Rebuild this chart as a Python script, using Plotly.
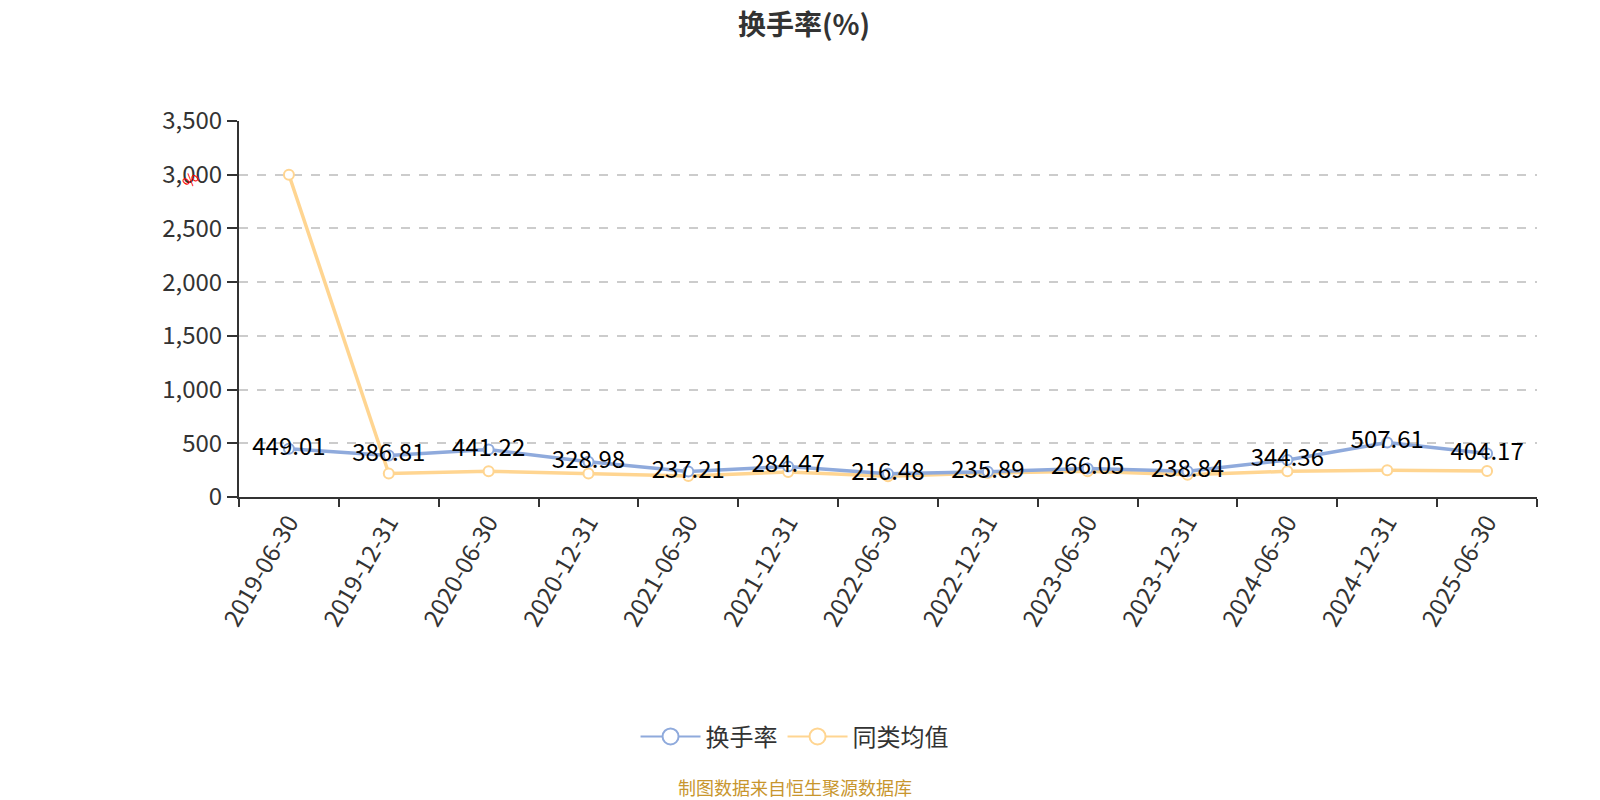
import plotly.graph_objects as go

# data
dates = ['2019-06-30', '2019-12-31', '2020-06-30', '2020-12-31', '2021-06-30',
         '2021-12-31', '2022-06-30', '2022-12-31', '2023-06-30', '2023-12-31',
         '2024-06-30', '2024-12-31', '2025-06-30']
turnover = [449.01, 386.81, 441.22, 328.98, 237.21, 284.47, 216.48,
            235.89, 266.05, 238.84, 344.36, 507.61, 404.17]
peer_avg = [3000, 218, 239, 218, 196, 233, 193, 223, 239, 208, 239, 249, 242]

font_cjk = 'Noto Sans CJK SC, Microsoft YaHei, sans-serif'
blue = '#8FAADC'
orange = '#FFD591'

fig = go.Figure()

fig.add_trace(go.Scatter(
    x=dates, y=peer_avg, name='同类均值', mode='lines+markers', showlegend=False,
    line=dict(color=orange, width=3.5),
    marker=dict(size=10, color='white', line=dict(color=orange, width=2)),
))

fig.add_trace(go.Scatter(
    x=dates, y=turnover, name='换手率', mode='lines+markers+text', showlegend=False,
    line=dict(color=blue, width=3.5),
    marker=dict(size=10, color='white', line=dict(color=blue, width=2)),
    text=[f'{v:.2f}' for v in turnover], textposition='middle center',
    textfont=dict(size=24, color='#000000', family=font_cjk),
))

# legend entries with the larger hollow circle symbol of the original
for name, color in [('换手率', blue), ('同类均值', orange)]:
    fig.add_trace(go.Scatter(
        x=[None], y=[None], name=name, mode='lines+markers',
        line=dict(color=color, width=2),
        marker=dict(size=16, color='white', line=dict(color=color, width=2)),
    ))

# the page body adds an 8px offset, so the figure is 8px smaller on each side
fig.update_layout(
    width=1592, height=792,
    paper_bgcolor='white', plot_bgcolor='white',
    margin=dict(l=231, r=63, t=113, b=303),
    font=dict(family=font_cjk, color='#333333'),
    title=dict(text='<b>换手率(%)</b>', x=0.5, xanchor='center', y=0.978, yanchor='middle',
               font=dict(size=28, color='#333333')),
    showlegend=True,
    legend=dict(orientation='h', x=0.428, xanchor='center',
                y=-0.638, yanchor='middle',
                font=dict(size=24, color='#333333'),
                itemwidth=60),
    xaxis=dict(
        type='category', range=[-0.5, 12.5], tickson='boundaries',
        showline=True, linecolor='#333333', linewidth=2,
        ticks='outside', ticklen=8, tickcolor='#333333', tickwidth=2,
        tickangle=-60, tickfont=dict(size=24, color='#333333'),
        showgrid=False, zeroline=False, automargin=False,
    ),
    yaxis=dict(
        range=[0, 3500], dtick=500, tickformat=',',
        showline=True, linecolor='#333333', linewidth=2,
        ticks='outside', ticklen=10, tickcolor='#333333', tickwidth=2,
        tickfont=dict(size=24, color='#333333'),
        showgrid=True, gridcolor='#CCCCCC', griddash='dash', gridwidth=1.5,
        zeroline=False, automargin=False,
    ),
    annotations=[
        dict(text='%', xref='paper', yref='paper', x=-0.051, y=0.89,
             showarrow=False, textangle=-50, font=dict(size=16, color='red')),
        dict(text='制图数据来自恒生聚源数据库', xref='paper', yref='paper',
             x=0.428, y=-0.772, xanchor='center', yanchor='middle',
             showarrow=False, font=dict(size=18, color='#C8962E')),
    ],
)

fig.write_html("out.html")
